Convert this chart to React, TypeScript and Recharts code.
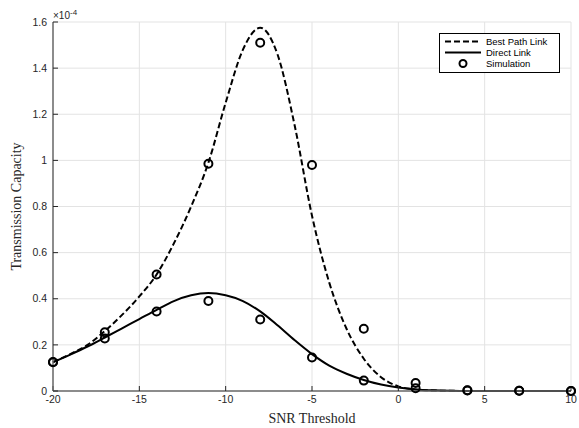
import React from "react";
import {
  ComposedChart,
  Line,
  Scatter,
  XAxis,
  YAxis,
  CartesianGrid,
} from "recharts";

// SNR threshold sampling for the analytic curves
const snr = [
  -20, -19, -18, -17, -16, -15, -14, -13, -12, -11, -10, -9, -8, -7, -6, -5,
  -4, -3, -2, -1, 0, 1, 2, 3, 4, 5, 6, 7, 8, 9, 10,
];
// values in units of 1e-4
const bestPath = [
  0.125, 0.16, 0.2, 0.26, 0.33, 0.41, 0.505, 0.64, 0.8, 0.99, 1.25, 1.48,
  1.575, 1.46, 1.15, 0.76, 0.47, 0.27, 0.14, 0.06, 0.02, 0.007, 0.002, 0.001,
  0, 0, 0, 0, 0, 0, 0,
];
const directLink = [
  0.125, 0.158, 0.193, 0.232, 0.272, 0.312, 0.352, 0.39, 0.415, 0.425, 0.415,
  0.39, 0.345, 0.285, 0.22, 0.16, 0.11, 0.075, 0.048, 0.028, 0.015, 0.007,
  0.003, 0.001, 0, 0, 0, 0, 0, 0, 0,
];

// simulation points
const simSnr = [-20, -17, -14, -11, -8, -5, -2, 1, 4, 7, 10];
const simBest = [0.126, 0.255, 0.505, 0.985, 1.51, 0.98, 0.27, 0.035, 0.003, 0.001, 0];
const simDirect = [0.125, 0.228, 0.345, 0.39, 0.31, 0.145, 0.045, 0.012, 0.002, 0.001, 0];

const xTicks = [-20, -15, -10, -5, 0, 5, 10];
const yTicks = [0, 0.2, 0.4, 0.6, 0.8, 1, 1.2, 1.4, 1.6];

const curveData = snr.map((x, i) => ({
  x,
  best: bestPath[i],
  direct: directLink[i],
}));
const bestSimData = simSnr.map((x, i) => ({ x, y: simBest[i] }));
const directSimData = simSnr.map((x, i) => ({ x, y: simDirect[i] }));

const tickStyle = {
  fill: "#262626",
  fontSize: 10.5,
  fontFamily: "'Liberation Sans', Arial, sans-serif",
};
const labelFont = "'Liberation Serif', 'Times New Roman', serif";

const Ring = (props: any) => {
  const { cx, cy } = props;
  if (cx == null || cy == null) return null;
  return <circle cx={cx} cy={cy} r={4} fill="none" stroke="#000" strokeWidth={2} />;
};

const legendItems = [
  { name: "Best Path Link", kind: "dash" },
  { name: "Direct Link", kind: "solid" },
  { name: "Simulation", kind: "ring" },
];

const LegendBox = () => (
  <div
    style={{
      position: "absolute",
      left: 439,
      top: 33,
      border: "1px solid #000",
      background: "#fff",
      width: 119,
      padding: "2px 0 3px 0",
      fontFamily: "'Liberation Sans', Arial, sans-serif",
      fontSize: 9.5,
      color: "#000",
      lineHeight: "11px",
    }}
  >
    {legendItems.map((item) => (
      <div key={item.name} style={{ display: "flex", alignItems: "center", height: 11 }}>
        <svg width={46} height={11} style={{ flex: "none" }}>
          {item.kind === "ring" ? (
            <circle cx={23} cy={5.5} r={3.5} fill="none" stroke="#000" strokeWidth={2} />
          ) : (
            <line
              x1={5}
              x2={41}
              y1={5.5}
              y2={5.5}
              stroke="#000"
              strokeWidth={2}
              strokeDasharray={item.kind === "dash" ? "6 3" : undefined}
            />
          )}
        </svg>
        <span>{item.name}</span>
      </div>
    ))}
  </div>
);

export default function App() {
  return (
    <div
      style={{
        position: "absolute",
        left: 0,
        top: 0,
        width: 579,
        height: 428,
        background: "#fff",
      }}
    >
      <ComposedChart
        width={579}
        height={428}
        data={curveData}
        margin={{ top: 22, right: 8, left: 0, bottom: 0 }}
      >
        <CartesianGrid stroke="#e3e3e3" strokeWidth={1} />
        <XAxis
          dataKey="x"
          type="number"
          domain={[-20, 10]}
          ticks={xTicks}
          interval={0}
          height={37}
          tick={tickStyle}
          tickSize={-5}
          tickMargin={10}
          stroke="#6a6a6a"
          strokeWidth={1.5}
          tickLine={{ stroke: "#262626", strokeWidth: 1 }}
          label={{
            value: "SNR Threshold",
            position: "insideBottom",
            offset: 5,
            style: { fontFamily: labelFont, fontSize: 14, fill: "#262626" },
          }}
        />
        <YAxis
          type="number"
          domain={[0, 1.6]}
          ticks={yTicks}
          interval={0}
          width={53}
          tick={tickStyle}
          tickSize={-5}
          tickMargin={11}
          tickFormatter={(v: number) => String(Math.round(v * 10) / 10)}
          stroke="#6a6a6a"
          strokeWidth={1.5}
          tickLine={{ stroke: "#262626", strokeWidth: 1 }}
          label={{
            value: "Transmission Capacity",
            angle: -90,
            position: "center",
            dx: -10,
            style: { fontFamily: labelFont, fontSize: 14, fill: "#262626", textAnchor: "middle" },
          }}
        />
        <Line
          type="monotone"
          dataKey="best"
          stroke="#000"
          strokeWidth={2}
          strokeDasharray="6 3"
          dot={false}
          isAnimationActive={false}
        />
        <Line
          type="monotone"
          dataKey="direct"
          stroke="#000"
          strokeWidth={2}
          dot={false}
          isAnimationActive={false}
        />
        <Scatter data={bestSimData} dataKey="y" shape={<Ring />} isAnimationActive={false} />
        <Scatter data={directSimData} dataKey="y" shape={<Ring />} isAnimationActive={false} />
      </ComposedChart>
      <LegendBox />
      <div
        style={{
          position: "absolute",
          left: 53,
          top: 7,
          fontFamily: "'Liberation Sans', Arial, sans-serif",
          fontSize: 10,
          color: "#262626",
          lineHeight: "12px",
        }}
      >
        ×10<sup style={{ fontSize: 8, verticalAlign: "4px" }}>-4</sup>
      </div>
    </div>
  );
}
